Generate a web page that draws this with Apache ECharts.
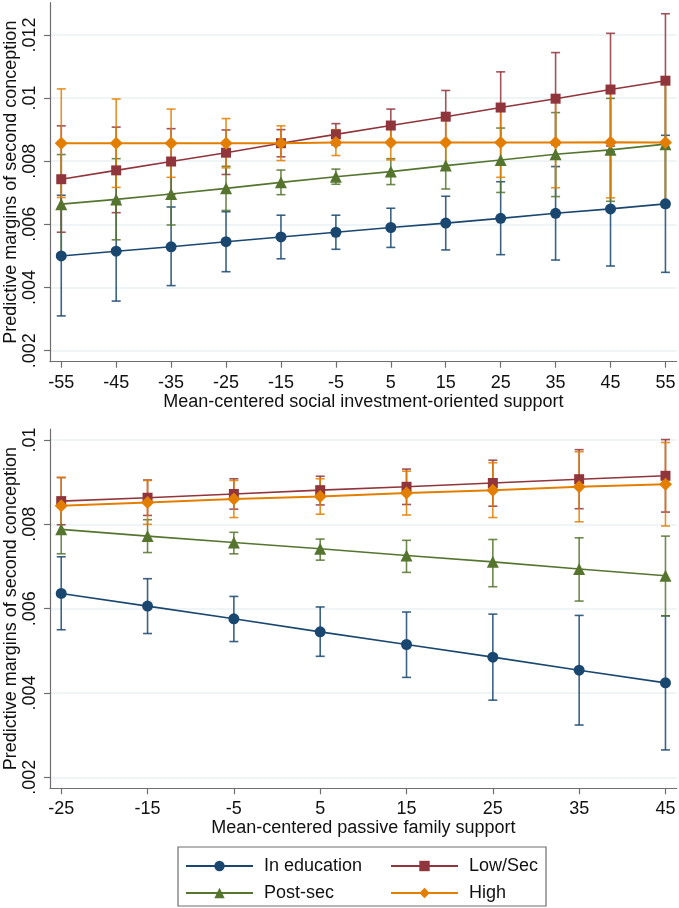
<!DOCTYPE html>
<html>
<head>
<meta charset="utf-8">
<script src="https://cdn.jsdelivr.net/npm/echarts@6/dist/echarts.min.js"></script>
<style>
html,body{margin:0;padding:0;background:#fff;}
#chart{width:679px;height:908px;}
</style>
</head>
<body>
<div id="chart"></div>
<script>
// ---------- DATA ----------
const seriesNames = ['In education', 'Low/Sec', 'Post-sec', 'High'];

// Top panel: social investment-oriented support
const xTop = [-55, -45, -35, -25, -15, -5, 5, 15, 25, 35, 45, 55];
const xTopTickLabels = ['-55', '-45', '-35', '-25', '-15', '-5', '5', '15', '25', '35', '45', '55'];
const topEduMean = [0.00500, 0.00515, 0.00529, 0.00545, 0.00560, 0.00575, 0.00590, 0.00604, 0.00619, 0.00635, 0.00649, 0.00665];
const topEduLo   = [0.00310, 0.00357, 0.00406, 0.00450, 0.00491, 0.00521, 0.00527, 0.00519, 0.00504, 0.00487, 0.00468, 0.00448];
const topEduHi   = [0.00692, 0.00673, 0.00655, 0.00640, 0.00629, 0.00629, 0.00651, 0.00689, 0.00735, 0.00783, 0.00830, 0.00882];
const topLowMean = [0.00743, 0.00771, 0.00799, 0.00827, 0.00857, 0.00885, 0.00913, 0.00941, 0.00970, 0.00998, 0.01027, 0.01055];
const topLowLo   = [0.00575, 0.00637, 0.00695, 0.00758, 0.00814, 0.00851, 0.00861, 0.00858, 0.00857, 0.00852, 0.00848, 0.00843];
const topLowHi   = [0.00912, 0.00908, 0.00903, 0.00899, 0.00900, 0.00919, 0.00965, 0.01024, 0.01083, 0.01144, 0.01205, 0.01267];
const topPostMean = [0.00664, 0.00679, 0.00696, 0.00714, 0.00733, 0.00751, 0.00767, 0.00786, 0.00804, 0.00822, 0.00836, 0.00854];
const topPostLo   = [0.00507, 0.00551, 0.00598, 0.00644, 0.00694, 0.00727, 0.00726, 0.00712, 0.00701, 0.00688, 0.00673, 0.00659];
const topPostHi   = [0.00821, 0.00808, 0.00794, 0.00784, 0.00772, 0.00775, 0.00808, 0.00860, 0.00905, 0.00954, 0.00999, 0.01049];
const topHighMean = [0.00857, 0.00857, 0.00857, 0.00857, 0.00857, 0.00859, 0.00859, 0.00859, 0.00859, 0.00859, 0.00860, 0.00859];
const topHighLo   = [0.00685, 0.00717, 0.00749, 0.00779, 0.00802, 0.00818, 0.00804, 0.00779, 0.00749, 0.00716, 0.00684, 0.00654];
const topHighHi   = [0.01029, 0.00997, 0.00965, 0.00935, 0.00912, 0.00900, 0.00914, 0.00939, 0.00969, 0.01002, 0.01036, 0.01064];
const yTopTicks = [0.002, 0.004, 0.006, 0.008, 0.010, 0.012];
const yTopTickLabels = ['.002', '.004', '.006', '.008', '.01', '.012'];

// Bottom panel: passive family support
const xBot = [-25, -15, -5, 5, 15, 25, 35, 45];
const xBotTickLabels = ['-25', '-15', '-5', '5', '15', '25', '35', '45'];
const botEduMean = [0.00636, 0.00606, 0.00576, 0.00545, 0.00515, 0.00485, 0.00454, 0.00424];
const botEduLo   = [0.00550, 0.00541, 0.00522, 0.00487, 0.00437, 0.00383, 0.00324, 0.00265];
const botEduHi   = [0.00723, 0.00671, 0.00629, 0.00604, 0.00592, 0.00587, 0.00584, 0.00583];
const botLowMean = [0.00855, 0.00863, 0.00872, 0.00881, 0.00889, 0.00898, 0.00907, 0.00915];
const botLowLo   = [0.00799, 0.00821, 0.00836, 0.00846, 0.00847, 0.00843, 0.00837, 0.00829];
const botLowHi   = [0.00911, 0.00905, 0.00908, 0.00914, 0.00931, 0.00952, 0.00977, 0.01001];
const botPostMean = [0.00788, 0.00772, 0.00757, 0.00742, 0.00726, 0.00711, 0.00694, 0.00678];
const botPostLo   = [0.00730, 0.00733, 0.00730, 0.00715, 0.00686, 0.00652, 0.00618, 0.00583];
const botPostHi   = [0.00846, 0.00811, 0.00781, 0.00765, 0.00762, 0.00764, 0.00768, 0.00772];
const botHighMean = [0.00844, 0.00852, 0.00860, 0.00866, 0.00874, 0.00881, 0.00889, 0.00895];
const botHighLo   = [0.00777, 0.00800, 0.00816, 0.00824, 0.00822, 0.00816, 0.00806, 0.00796];
const botHighHi   = [0.00911, 0.00904, 0.00904, 0.00908, 0.00926, 0.00946, 0.00972, 0.00994];
const yBotTicks = [0.002, 0.004, 0.006, 0.008, 0.010];
const yBotTickLabels = ['.002', '.004', '.006', '.008', '.01'];

const xTopTitle = 'Mean-centered social investment-oriented support';
const xBotTitle = 'Mean-centered passive family support';
const yTitle = 'Predictive margins of second conception';

// ---------- STYLE ----------
const colors = ['#1a476f', '#90353b', '#55752f', '#e37e00'];
const symbols = ['circle', 'rect', 'triangle', 'diamond'];
const symbolSizes = [11, 10, 12, 13];
const FONT = 'Liberation Sans, Arial, sans-serif';
const textCol = '#111';
const axisCol = '#6e6e6e';

function labelMap(vals, labels) {
  return function (v) {
    for (let i = 0; i < vals.length; i++) if (Math.abs(vals[i] - v) < 1e-9) return labels[i];
    return '';
  };
}

function makeX(gridIndex, min, max, ticks, tickLabels, title, nameGap) {
  return {
    type: 'value', gridIndex, min, max,
    name: title, nameLocation: 'middle', nameGap,
    nameTextStyle: { fontFamily: FONT, fontSize: 18, color: textCol },
    axisLine: { show: true, onZero: false, lineStyle: { color: axisCol, width: 1.2 } },
    axisTick: { show: true, length: 6, customValues: ticks, lineStyle: { color: axisCol, width: 1.2 } },
    axisLabel: { show: true, customValues: ticks, formatter: labelMap(ticks, tickLabels), fontFamily: FONT, fontSize: 18, color: textCol, margin: 12 },
    splitLine: { show: false }
  };
}
function makeY(gridIndex, min, max, ticks, tickLabels) {
  return {
    type: 'value', gridIndex, min, max,
    name: yTitle, nameLocation: 'middle', nameGap: 30, nameRotate: 90, nameMoveOverlap: false,
    nameTextStyle: { fontFamily: FONT, fontSize: 18, color: textCol },
    axisLine: { show: true, onZero: false, lineStyle: { color: axisCol, width: 1.2 } },
    axisTick: { show: true, length: 6, customValues: ticks, lineStyle: { color: axisCol, width: 1.2 } },
    axisLabel: { show: true, rotate: 90, customValues: ticks, formatter: labelMap(ticks, tickLabels), fontFamily: FONT, fontSize: 18, color: textCol, margin: 11 },
    splitLine: { show: true, customValues: ticks, lineStyle: { color: '#eaf2f3', width: 1.5 } }
  };
}

function errSeries(name, idx, xs, lo, hi, color) {
  return {
    type: 'custom', name: name + ' CI', xAxisIndex: idx, yAxisIndex: idx, z: 2,
    data: xs.map((x, i) => [x, lo[i], hi[i]]),
    encode: { x: 0, y: [1, 2] },
    renderItem: function (params, api) {
      const x = api.value(0);
      const pLo = api.coord([x, api.value(1)]);
      const pHi = api.coord([x, api.value(2)]);
      const cap = 4.5;
      const st = { stroke: color, lineWidth: 1.6, opacity: 0.85 };
      return {
        type: 'group', children: [
          { type: 'line', shape: { x1: pLo[0], y1: pLo[1], x2: pHi[0], y2: pHi[1] }, style: st },
          { type: 'line', shape: { x1: pLo[0] - cap, y1: pLo[1], x2: pLo[0] + cap, y2: pLo[1] }, style: st },
          { type: 'line', shape: { x1: pHi[0] - cap, y1: pHi[1], x2: pHi[0] + cap, y2: pHi[1] }, style: st }
        ]
      };
    }
  };
}
function lineSeries(k, idx, xs, mean) {
  return {
    type: 'line', name: seriesNames[k], xAxisIndex: idx, yAxisIndex: idx, z: 3,
    data: xs.map((x, i) => [x, mean[i]]),
    symbol: symbols[k], symbolSize: symbolSizes[k], showSymbol: true,
    lineStyle: { color: colors[k], width: k === 3 ? 2 : 1.6 },
    itemStyle: { color: colors[k] },
    animation: false, silent: true
  };
}

const topData = [
  [topEduMean, topEduLo, topEduHi],
  [topLowMean, topLowLo, topLowHi],
  [topPostMean, topPostLo, topPostHi],
  [topHighMean, topHighLo, topHighHi]
];
const botData = [
  [botEduMean, botEduLo, botEduHi],
  [botLowMean, botLowLo, botLowHi],
  [botPostMean, botPostLo, botPostHi],
  [botHighMean, botHighLo, botHighHi]
];

const series = [];
for (let k = 0; k < 4; k++) {
  series.push(errSeries(seriesNames[k], 0, xTop, topData[k][1], topData[k][2], colors[k]));
  series.push(errSeries(seriesNames[k], 1, xBot, botData[k][1], botData[k][2], colors[k]));
}
for (let k = 0; k < 4; k++) {
  series.push(lineSeries(k, 0, xTop, topData[k][0]));
  series.push(lineSeries(k, 1, xBot, botData[k][0]));
}

const legendCommon = {
  orient: 'vertical', itemWidth: 67, itemHeight: 13, itemGap: 7, padding: 0,
  textStyle: { fontFamily: FONT, fontSize: 18, color: textCol, lineHeight: 20, padding: [0, 0, 0, 6] },
  selectedMode: false
};

const option = {
  backgroundColor: '#ffffff',
  animation: false,
  grid: [
    { left: 50, right: 2.3, top: 2.7, height: 359, containLabel: false, outerBoundsMode: 'none' },
    { left: 50, right: 2.3, top: 429, height: 359.3, containLabel: false, outerBoundsMode: 'none' }
  ],
  xAxis: [
    makeX(0, -57.05, 57.05, xTop, xTopTickLabels, xTopTitle, 31),
    makeX(1, -26.3, 46.3, xBot, xBotTickLabels, xBotTitle, 30)
  ],
  yAxis: [
    makeY(0, 0.00165, 0.01302, yTopTicks, yTopTickLabels),
    makeY(1, 0.00174, 0.01026, yBotTicks, yBotTickLabels)
  ],
  legend: [
    Object.assign({}, legendCommon, { left: 185, top: 856, data: [seriesNames[0], seriesNames[2]] }),
    Object.assign({}, legendCommon, { left: 390, top: 856, data: [seriesNames[1], seriesNames[3]] })
  ],
  graphic: [
    { type: 'rect', shape: { x: 178, y: 847, width: 368, height: 59 }, style: { fill: 'none', stroke: '#6e6e6e', lineWidth: 1.2 }, silent: true }
  ],
  series
};

const chart = echarts.init(document.getElementById('chart'), null, { renderer: 'canvas' });
chart.setOption(option);
</script>
</body>
</html>
